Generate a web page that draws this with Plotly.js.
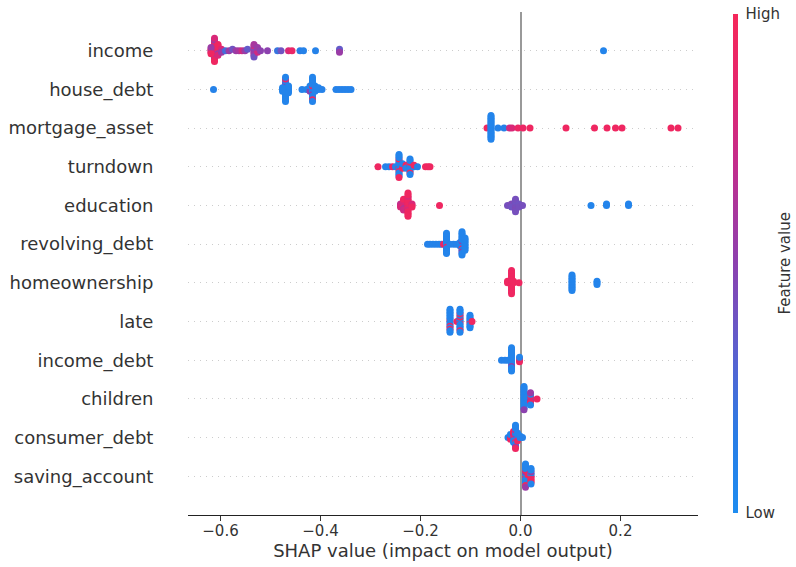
<!DOCTYPE html>
<html>
<head>
<meta charset="utf-8">
<script src="https://cdn.plot.ly/plotly-3.0.1.min.js"></script>
<style>html,body{margin:0;padding:0;background:#fff;}#chart{width:796px;height:567px;}</style>
</head>
<body>
<div id="chart"></div>
<script>
// Feature names, top to bottom
const features = ["income","house_debt","mortgage_asset","turndown","education","revolving_debt","homeownership","late","income_debt","children","consumer_debt","saving_account"];
const xTickVals = [-0.6,-0.4,-0.2,0.0,0.2];
const colorTicks = ["Low","High"];

// SHAP values and (normalised) feature values per feature
const income_shap = [-0.612,-0.612,-0.612,-0.612,-0.612,-0.612,-0.612,-0.612,-0.612,-0.612,-0.612,-0.612,-0.612,-0.612,-0.612,-0.612,
 -0.605,-0.605,-0.605,-0.605,-0.605,-0.605,-0.605,-0.605,
 -0.619,-0.619,-0.619,-0.619,-0.619,
 -0.598,-0.598,-0.598,
 -0.590,-0.583,-0.576,-0.569,-0.563,-0.557,-0.551,-0.546,
 -0.533,-0.533,-0.533,-0.533,-0.533,-0.533,-0.533,-0.533,-0.533,
 -0.526,-0.526,-0.526,-0.526,
 -0.520,-0.506,-0.486,-0.479,-0.464,-0.457,-0.441,-0.434,-0.410,
 -0.362,-0.362,-0.362,0.166];
const income_value = [0.95,0.55,0.95,0.8,0.95,0.55,0.95,0.8,0.95,0.95,0.55,0.8,0.95,0.55,0.95,0.8,
 0.95,0.8,0.95,0.95,0.55,0.95,0.8,0.95,
 0.55,0.95,0.8,0.55,0.95,
 0.55,0.8,0.55,
 0.25,0.55,0.4,0.55,0.6,0.75,0.55,0.35,
 0.55,0.8,0.55,0.4,0.55,0.75,0.55,0.6,0.4,
 0.55,0.4,0.75,0.55,
 0.5,0.5,0.2,0.4,0.8,0.9,0.15,0.1,0.1,
 0.5,0.35,0.55,0.08];

const house_debt_shap = [-0.614,
 -0.470,-0.470,-0.470,-0.470,-0.470,-0.470,-0.470,-0.470,-0.470,-0.470,-0.470,-0.470,-0.470,-0.470,-0.470,
 -0.464,-0.464,-0.464,-0.464,-0.464,
 -0.476,-0.476,-0.476,
 -0.437,-0.428,
 -0.421,-0.421,-0.421,-0.421,
 -0.416,-0.416,-0.416,-0.416,-0.416,-0.416,-0.416,-0.416,-0.416,-0.416,-0.416,-0.416,-0.416,-0.416,-0.416,
 -0.411,-0.411,-0.411,-0.411,
 -0.404,-0.404,-0.397,
 -0.369,-0.363,-0.357,-0.351,-0.345,-0.339];
const house_debt_value = [0.1,
 0.08,0.08,0.9,0.08,0.08,0.08,0.08,0.5,0.08,0.08,0.08,0.9,0.08,0.08,0.08,
 0.08,0.08,0.08,0.08,0.08,
 0.08,0.08,0.08,
 0.1,0.1,
 0.08,0.08,0.5,0.08,
 0.08,0.08,0.08,0.9,0.08,0.08,0.5,0.08,0.08,0.08,0.08,0.08,0.9,0.08,0.08,
 0.08,0.9,0.08,0.08,
 0.08,0.08,0.1,
 0.1,0.1,0.1,0.1,0.1,0.1];

const mortgage_asset_shap = [-0.067,
 -0.059,-0.059,-0.059,-0.059,-0.059,-0.059,-0.059,-0.059,-0.059,-0.059,-0.059,-0.059,-0.059,-0.059,-0.059,-0.059,-0.059,-0.059,
 -0.045,-0.033,-0.022,-0.017,-0.005,0.005,0.019,
 0.091,0.148,0.173,0.190,0.203,0.301,0.315];
const mortgage_asset_value = [0.95,
 0.08,0.08,0.08,0.08,0.08,0.08,0.08,0.08,0.08,0.08,0.08,0.08,0.08,0.08,0.08,0.08,0.08,0.08,
 0.1,0.12,0.75,0.8,0.92,0.92,0.95,
 0.95,0.95,0.95,0.95,0.95,0.95,0.95];

const turndown_shap = [-0.285,-0.270,-0.263,-0.256,-0.250,
 -0.243,-0.243,-0.243,-0.243,-0.243,-0.243,-0.243,-0.243,-0.243,-0.243,-0.243,-0.243,-0.243,-0.243,-0.243,-0.243,
 -0.236,-0.236,-0.236,-0.236,
 -0.229,-0.229,-0.229,
 -0.221,-0.221,-0.221,-0.221,-0.221,-0.221,-0.221,-0.221,-0.221,-0.221,-0.221,
 -0.213,-0.213,-0.206,
 -0.190,-0.185,-0.181];
const turndown_value = [0.95,0.1,0.1,0.9,0.1,
 0.08,0.08,0.95,0.08,0.08,0.08,0.95,0.08,0.08,0.95,0.08,0.08,0.08,0.08,0.95,0.08,
 0.95,0.08,0.95,0.08,
 0.08,0.95,0.08,
 0.08,0.95,0.08,0.08,0.08,0.95,0.08,0.08,0.95,0.08,0.08,
 0.08,0.95,0.1,
 0.95,0.95,0.95];

const education_shap = [-0.240,-0.240,-0.240,
 -0.234,-0.234,-0.234,-0.234,-0.234,-0.234,-0.234,-0.234,
 -0.225,-0.225,-0.225,-0.225,-0.225,-0.225,-0.225,-0.225,-0.225,-0.225,-0.225,-0.225,-0.225,-0.225,-0.225,-0.225,
 -0.217,-0.217,-0.217,
 -0.162,
 -0.026,-0.018,-0.018,-0.018,
 -0.010,-0.010,-0.010,-0.010,-0.010,-0.010,-0.010,-0.010,-0.010,
 -0.003,-0.003,-0.003,0.004,
 0.141,0.172,0.172,0.216,0.216];
const education_value = [0.75,0.7,0.8,
 0.8,0.75,0.95,0.8,0.65,0.8,0.75,0.95,
 0.95,0.95,0.8,0.95,0.95,0.95,0.8,0.95,0.95,0.95,0.95,0.8,0.95,0.95,0.95,0.95,
 0.95,0.8,0.95,
 0.95,
 0.42,0.42,0.45,0.4,
 0.42,0.4,0.45,0.42,0.42,0.4,0.45,0.42,0.42,
 0.42,0.4,0.42,0.42,
 0.08,0.08,0.08,0.08,0.08];

const revolving_debt_shap = [-0.186,-0.181,-0.175,-0.169,-0.163,-0.158,-0.154,
 -0.148,-0.148,-0.148,-0.148,-0.148,-0.148,-0.148,-0.148,-0.148,-0.148,-0.148,-0.148,-0.148,-0.148,
 -0.141,-0.134,-0.128,
 -0.121,-0.121,-0.121,
 -0.117,-0.117,-0.117,-0.117,-0.117,-0.117,-0.117,-0.117,-0.117,-0.117,-0.117,-0.117,-0.117,-0.117,-0.117,-0.117,
 -0.111,-0.111,-0.111,-0.111,-0.111,-0.111,-0.111,-0.111,-0.111];
const revolving_debt_value = [0.1,0.1,0.1,0.1,0.1,0.1,0.9,
 0.08,0.08,0.08,0.08,0.9,0.08,0.08,0.08,0.08,0.08,0.08,0.08,0.08,0.08,
 0.1,0.1,0.1,
 0.08,0.08,0.08,
 0.08,0.08,0.08,0.5,0.08,0.08,0.9,0.08,0.08,0.08,0.5,0.08,0.08,0.08,0.08,0.08,
 0.08,0.08,0.08,0.08,0.08,0.08,0.08,0.08,0.08];

const homeownership_shap = [-0.026,-0.026,
 -0.018,-0.018,-0.018,-0.018,-0.018,-0.018,-0.018,-0.018,-0.018,-0.018,-0.018,-0.018,-0.018,-0.018,-0.018,-0.018,
 -0.014,-0.014,-0.003,
 0.103,0.103,0.103,0.103,0.103,0.103,0.103,0.103,0.103,0.103,0.103,
 0.153,0.153,0.153];
const homeownership_value = [0.95,0.95,
 0.95,0.95,0.95,0.95,0.95,0.95,0.95,0.95,0.95,0.95,0.95,0.95,0.95,0.95,0.95,0.95,
 0.95,0.95,0.95,
 0.08,0.08,0.08,0.08,0.08,0.08,0.08,0.08,0.08,0.08,0.08,
 0.08,0.08,0.08];

const late_shap = [-0.141,-0.141,-0.141,-0.141,-0.141,-0.141,-0.141,-0.141,-0.141,-0.141,-0.141,-0.141,-0.141,-0.141,-0.141,-0.141,
 -0.127,
 -0.121,-0.121,-0.121,-0.121,-0.121,-0.121,-0.121,-0.121,-0.121,-0.121,-0.121,-0.121,-0.121,-0.121,-0.121,-0.121,
 -0.101,-0.101,-0.101,-0.101,-0.101,-0.101,-0.101,-0.101,-0.101,
 -0.097];
const late_value = [0.08,0.95,0.08,0.08,0.08,0.08,0.95,0.08,0.08,0.08,0.95,0.08,0.08,0.08,0.08,0.08,
 0.95,
 0.08,0.08,0.95,0.08,0.08,0.95,0.08,0.08,0.08,0.95,0.08,0.08,0.95,0.08,0.08,0.08,
 0.08,0.08,0.95,0.08,0.08,0.08,0.08,0.08,0.08,
 0.95];

const income_debt_shap = [-0.038,-0.031,-0.025,
 -0.018,-0.018,-0.018,-0.018,-0.018,-0.018,-0.018,-0.018,-0.018,-0.018,-0.018,-0.018,-0.018,-0.018,-0.018,-0.018,
 -0.002,-0.002,-0.002,-0.002];
const income_debt_value = [0.1,0.1,0.1,
 0.08,0.08,0.08,0.08,0.08,0.08,0.08,0.08,0.5,0.08,0.08,0.08,0.08,0.08,0.08,0.08,
 0.08,0.95,0.95,0.08];

const children_shap = [0.007,0.007,0.007,0.007,0.007,0.007,0.007,0.007,0.007,0.007,0.007,0.007,0.007,0.007,0.007,0.007,
 0.012,0.012,
 0.020,0.020,0.020,0.020,0.020,0.020,0.020,0.020,0.020,
 0.033];
const children_value = [0.08,0.08,0.08,0.08,0.08,0.08,0.08,0.08,0.08,0.08,0.08,0.08,0.08,0.08,0.5,0.08,
 0.08,0.08,
 0.95,0.08,0.55,0.95,0.8,0.08,0.95,0.55,0.08,
 0.95];

const consumer_debt_shap = [-0.025,
 -0.020,-0.020,-0.020,-0.020,
 -0.014,-0.014,-0.014,-0.014,-0.014,-0.014,-0.014,-0.014,
 -0.010,-0.010,-0.010,-0.010,-0.010,-0.010,-0.010,-0.010,-0.010,-0.010,-0.010,-0.010,-0.010,-0.010,-0.010,-0.010,
 -0.006,-0.006,-0.006,-0.006,-0.006,-0.006,
 -0.001,-0.001,0.004];
const consumer_debt_value = [0.1,
 0.95,0.55,0.95,0.08,
 0.95,0.08,0.55,0.95,0.08,0.8,0.08,0.95,
 0.08,0.95,0.08,0.55,0.08,0.08,0.95,0.08,0.08,0.8,0.08,0.08,0.55,0.08,0.95,0.08,
 0.08,0.55,0.08,0.08,0.95,0.08,
 0.08,0.08,0.1];

const saving_account_shap = [0.010,0.010,0.010,0.010,0.010,0.010,0.010,0.010,0.010,0.010,0.010,0.010,0.010,0.010,0.010,0.010,
 0.015,0.015,
 0.021,0.021,0.021,0.021,0.021,0.021,0.021,0.021,0.021,0.021,0.021];
const saving_account_value = [0.08,0.08,0.95,0.08,0.08,0.55,0.08,0.95,0.08,0.08,0.08,0.08,0.95,0.08,0.55,0.08,
 0.08,0.95,
 0.95,0.08,0.95,0.08,0.95,0.55,0.95,0.08,0.95,0.08,0.08];

const shapByFeature = [income_shap, house_debt_shap, mortgage_asset_shap, turndown_shap, education_shap, revolving_debt_shap,
  homeownership_shap, late_shap, income_debt_shap, children_shap, consumer_debt_shap, saving_account_shap];
const valueByFeature = [income_value, house_debt_value, mortgage_asset_value, turndown_value, education_value, revolving_debt_value,
  homeownership_value, late_value, income_debt_value, children_value, consumer_debt_value, saving_account_value];

// beeswarm layout (same binning/layering idea as shap's summary plot)
function swarm(xs){
  const N = xs.length, mn = Math.min(...xs), mx = Math.max(...xs);
  const q = xs.map(x => Math.round(100*(x-mn)/(mx-mn+1e-8)));
  const inds = xs.map((_,i)=>i).sort((a,b)=> (q[a]-q[b]) || (a-b));
  let layer = 0, last = -1;
  const ys = new Array(N).fill(0);
  for (const i of inds){
    if (q[i] !== last) layer = 0;
    ys[i] = Math.ceil(layer/2) * ((layer%2)*2-1);
    layer++; last = q[i];
  }
  const m = Math.max(...ys.map(y=>y+1));
  return ys.map(y => y*0.9*(0.4/m));
}

const nF = features.length;
const traces = features.map((f, k) => {
  const row = nF-1-k;
  const off = swarm(shapByFeature[k]);
  return {
    type:'scatter', mode:'markers', name:f,
    x: shapByFeature[k],
    y: off.map(o => row + o),
    marker:{size:7, color: valueByFeature[k], coloraxis:'coloraxis', line:{width:0}},
    hoverinfo:'skip', showlegend:false
  };
});

const font = "DejaVu Sans, sans-serif";
const layout = {
  width:796, height:567,
  margin:{l:188, r:98, t:12, b:52, autoexpand:false},
  paper_bgcolor:'#fff', plot_bgcolor:'#fff',
  font:{family:font, color:'#333'},
  xaxis:{
    range:[-0.665,0.355], tickvals:xTickVals, tickformat:'.1f',
    ticks:'outside', ticklen:5, tickcolor:'#333', tickwidth:1,
    showline:true, linecolor:'#222', linewidth:1,
    zeroline:true, zerolinecolor:'#999', zerolinewidth:2,
    showgrid:false, tickfont:{size:15, color:'#333'}, ticklabelstandoff:-3,
    title:{text:'SHAP value (impact on model output)', font:{size:18, color:'#333'}, standoff:3}
  },
  yaxis:{
    range:[-1, nF], tickvals:features.map((_,k)=>nF-1-k), ticktext:features,
    ticks:'outside', ticklen:30, tickcolor:'rgba(0,0,0,0)',
    showline:false, zeroline:false,
    showgrid:true, gridcolor:'#cccccc', gridwidth:1, griddash:'1px,5px',
    tickfont:{size:18, color:'#333'}
  },
  coloraxis:{
    cmin:0, cmax:1,
    colorscale:[[0,'rgb(30,140,240)'],[0.15,'rgb(40,125,230)'],[0.3,'rgb(85,100,210)'],[0.5,'rgb(140,65,175)'],[0.7,'rgb(195,45,140)'],[0.85,'rgb(228,38,110)'],[1,'rgb(245,40,90)']],
    colorbar:{
      x:1.0686, xanchor:'left', y:0.5, yanchor:'middle',
      thickness:5, len:499, lenmode:'pixels', ypad:0, xpad:0,
      outlinewidth:0, tickvals:[0,1], ticktext:colorTicks,
      ticks:'outside', ticklen:5, tickcolor:'rgba(0,0,0,0)',
      tickfont:{size:15, color:'#333'}
    }
  },
  annotations:[{
    text:'Feature value', xref:'paper', yref:'paper', x:1.1705, y:0.5,
    xanchor:'center', yanchor:'middle', textangle:-90, showarrow:false,
    font:{size:15, color:'#333'}
  }]
};

Plotly.newPlot('chart', traces, layout, {displayModeBar:false, staticPlot:true});
</script>
</body>
</html>
